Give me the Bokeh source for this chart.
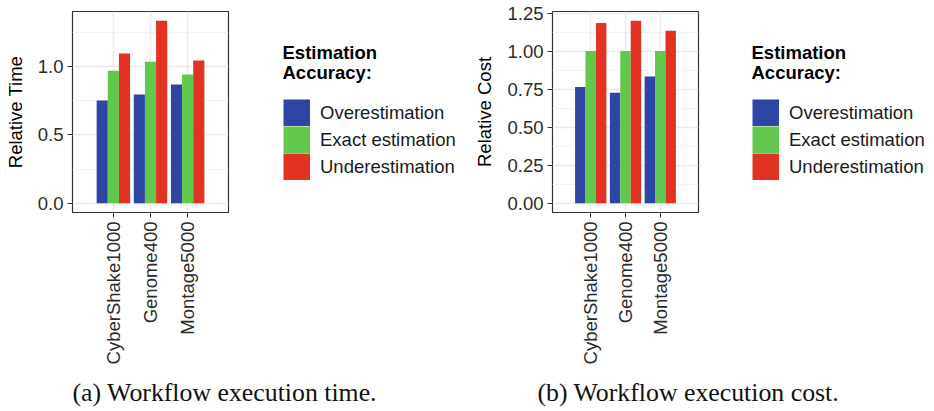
import math
from bokeh.plotting import figure
from bokeh.models import (FactorRange, Range1d, FixedTicker, NumeralTickFormatter,
                          Legend, LegendItem, Label, ColumnDataSource)
from bokeh.transform import dodge
from bokeh.layouts import row, column
from bokeh.embed import file_html
from bokeh.resources import INLINE

# ---------------- data ----------------
workflows = ["CyberShake1000", "Genome400", "Montage5000"]
accuracy_levels = ["Overestimation", "Exact estimation", "Underestimation"]
colors = ["#2F45A3", "#62C74D", "#E13224"]

time_over = [0.752, 0.796, 0.869]
time_exact = [0.970, 1.036, 0.942]
time_under = [1.095, 1.336, 1.044]

cost_over = [0.765, 0.726, 0.833]
cost_exact = [1.000, 1.000, 1.000]
cost_under = [1.185, 1.200, 1.134]

time_ticks = [0.0, 0.5, 1.0]
time_minor = [0.25, 0.75, 1.25]
cost_ticks = [0.0, 0.25, 0.5, 0.75, 1.0, 1.25]
cost_minor = [0.125, 0.375, 0.625, 0.875, 1.125]

legend_title = ["Estimation", "Accuracy:"]
caption_a = "(a) Workflow execution time."
caption_b = "(b) Workflow execution cost."

FONT = "Liberation Sans"
SERIF = "Liberation Serif"
FS = "18.5px"
TOP_H = 372      # height of the chart row
TOP = 11         # border above every frame
FH = 201         # frame height
BOT = TOP_H - TOP - FH
KEY = 27         # legend key size


def make_chart(series, ylabel, ticks, minor, fmt, left, fwidth, total_w):
    ymax = max(max(s) for s in series)
    pad = 0.05 * ymax
    p = figure(x_range=FactorRange(*workflows, range_padding=0.4),
               y_range=Range1d(-pad, ymax + pad),
               width=total_w, height=TOP_H, title=None,
               min_border_left=left, min_border_right=total_w - left - fwidth,
               min_border_top=TOP, min_border_bottom=BOT,
               output_backend="svg", toolbar_location=None)
    p.background_fill_color = "white"
    p.border_fill_color = "white"
    p.outline_line_color = "#333333"
    p.outline_line_width = 1.2

    offsets = [-0.3, 0.0, 0.3]
    for vals, off, col in zip(series, offsets, colors):
        src = ColumnDataSource(dict(wf=workflows, val=vals))
        p.vbar(x=dodge("wf", off, range=p.x_range), top="val", bottom=0,
               width=0.3, source=src, fill_color=col, line_color=None)

    t = FixedTicker(ticks=ticks, minor_ticks=minor)
    p.yaxis.ticker = t
    p.ygrid.ticker = t
    p.yaxis.formatter = NumeralTickFormatter(format=fmt)

    for ax in (p.xaxis, p.yaxis):
        ax.axis_line_color = None
        ax.major_tick_line_color = "#333333"
        ax.major_tick_out = 5
        ax.major_tick_in = 0
        ax.minor_tick_line_color = None
        ax.major_label_text_font = FONT
        ax.major_label_text_font_size = FS
        ax.major_label_text_color = "#2b2b2b"
        ax.major_label_standoff = 4
    p.xaxis.major_label_orientation = math.pi / 2

    p.yaxis.axis_label = ylabel
    p.yaxis.axis_label_text_font = FONT
    p.yaxis.axis_label_text_font_size = FS
    p.yaxis.axis_label_text_font_style = "normal"
    p.yaxis.axis_label_text_color = "black"
    p.yaxis.axis_label_standoff = 9

    p.xgrid.grid_line_color = "#EBEBEB"
    p.xgrid.grid_line_width = 1.6
    p.ygrid.grid_line_color = "#EBEBEB"
    p.ygrid.grid_line_width = 1.6
    p.ygrid.minor_grid_line_color = "#F0F0F0"
    p.ygrid.minor_grid_line_width = 0.9
    return p


def blank(w, h, top=0, bottom=0):
    f = figure(width=w, height=h, x_range=Range1d(0, 1), y_range=Range1d(0, 1),
               min_border_left=0, min_border_right=0,
               min_border_top=top, min_border_bottom=bottom,
               title=None, output_backend="svg", toolbar_location=None)
    f.axis.visible = False
    f.grid.visible = False
    f.outline_line_color = None
    f.background_fill_color = "white"
    f.border_fill_color = "white"
    return f


def make_side(w, leg_x, title_x):
    f = blank(w, TOP_H, top=TOP, bottom=BOT)
    # thick, zero-length key lines that only feed the legend (drawn as solid squares)
    keys = [f.line(x=[-1.0, -1.0], y=[-1.0, -1.0], line_width=KEY,
                   line_color=col, line_cap="butt") for col in colors]
    legend = Legend(items=[LegendItem(label=lvl, renderers=[r])
                           for lvl, r in zip(accuracy_levels, keys)],
                    location=(leg_x, 32), orientation="vertical",
                    glyph_width=KEY, glyph_height=KEY, spacing=0,
                    padding=0, margin=0, label_standoff=10,
                    label_text_font=FONT, label_text_font_size=FS,
                    label_text_color="#1a1a1a",
                    border_line_color=None, background_fill_alpha=0)
    f.add_layout(legend)
    for txt, yy in zip(legend_title, [160.2, 140.2]):
        f.add_layout(Label(x=title_x, y=yy, x_units="screen", y_units="screen",
                           text=txt, text_font=FONT, text_font_size=FS,
                           text_font_style="bold", text_color="black",
                           text_baseline="middle"))
    return f


chart_a = make_chart([time_over, time_exact, time_under], "Relative Time",
                     time_ticks, time_minor, "0.0", left=72, fwidth=156, total_w=240)
side_a = make_side(227, leg_x=43, title_x=42)
chart_b = make_chart([cost_over, cost_exact, cost_under], "Relative Cost",
                     cost_ticks, cost_minor, "0.00", left=85, fwidth=146, total_w=243)
side_b = make_side(224, leg_x=42, title_x=41)

cap = blank(934, 411 - TOP_H)
for txt, cx in zip([caption_a, caption_b], [72, 537]):
    cap.add_layout(Label(x=cx, y=19, x_units="screen", y_units="screen",
                         text=txt, text_font=SERIF, text_font_size="25.8px",
                         text_color="#111111", text_align="left",
                         text_baseline="middle"))

layout = column(row(chart_a, side_a, chart_b, side_b), cap)
open("out.html", "w").write(file_html(layout, INLINE))
